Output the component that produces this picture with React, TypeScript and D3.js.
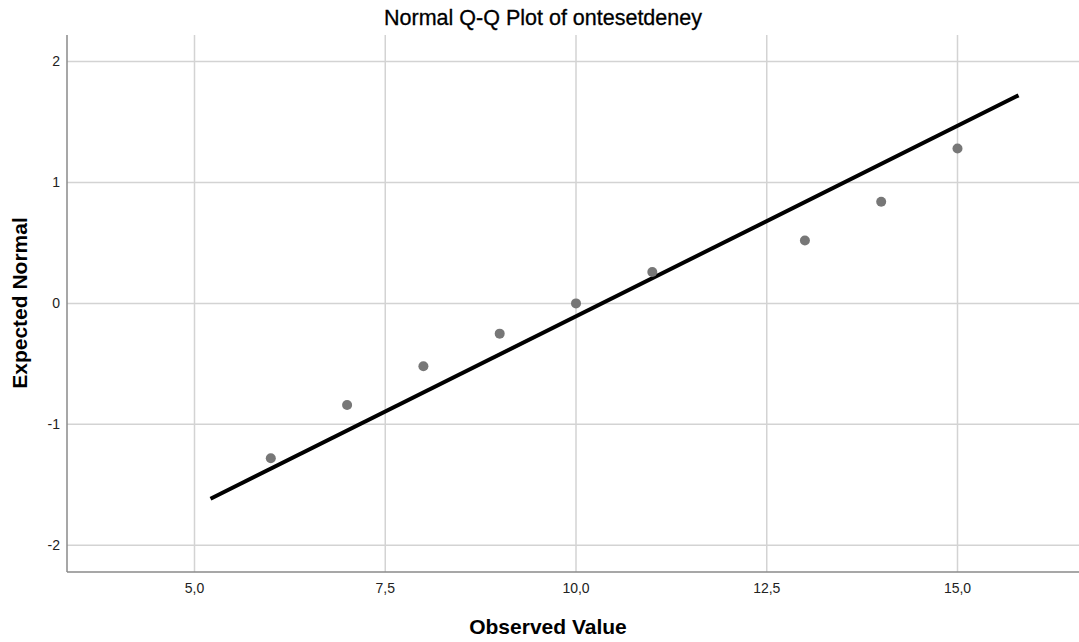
import React from "react";
import * as d3 from "d3";

const observed = [6, 7, 8, 9, 10, 11, 13, 14, 15];
const expected = [-1.28, -0.84, -0.52, -0.25, 0, 0.26, 0.52, 0.84, 1.28];
const lineX = [5.21, 15.8];
const lineY = [-1.615, 1.72];
const xTicks = [5, 7.5, 10, 12.5, 15];
const yTicks = [-2, -1, 0, 1, 2];

const W = 1079;
const H = 642;
const left = 67;
const right = 1079;
const top = 35;
const bottom = 572;

export default function App() {
  const x = d3.scaleLinear().domain([5, 15]).range([194.5, 957.5]);
  const y = d3.scaleLinear().domain([-2, 2]).range([545.3, 61.5]);
  const fmt = (v: number) => v.toFixed(1).replace(".", ",");
  const line = d3
    .line<number>()
    .x((d) => x(lineX[d]))
    .y((d) => y(lineY[d]));
  const font = "'Liberation Sans', Arial, sans-serif";
  return (
    <svg
      width={W}
      height={H}
      style={{ position: "absolute", left: 0, top: 0, background: "#fff" }}
      fontFamily={font}
    >
      <rect x={0} y={0} width={W} height={H} fill="#fff" />
      {xTicks.map((t) => (
        <line key={"gx" + t} x1={x(t)} x2={x(t)} y1={top} y2={bottom} stroke="#d3d3d3" strokeWidth={1.5} />
      ))}
      {yTicks.map((t) => (
        <line key={"gy" + t} x1={left} x2={right} y1={y(t)} y2={y(t)} stroke="#d3d3d3" strokeWidth={1.5} />
      ))}
      <line x1={left} x2={left} y1={top} y2={bottom} stroke="#8a8a8a" strokeWidth={1.5} />
      <line x1={left} x2={right} y1={bottom} y2={bottom} stroke="#8a8a8a" strokeWidth={1.5} />
      {yTicks.map((t) => (
        <text key={"ty" + t} x={60} y={y(t)} dy="0.35em" textAnchor="end" fontSize={14} fill="#222">
          {t}
        </text>
      ))}
      {xTicks.map((t) => (
        <text key={"tx" + t} x={x(t)} y={593} textAnchor="middle" fontSize={14} fill="#222">
          {fmt(t)}
        </text>
      ))}
      <path d={line([0, 1]) || ""} stroke="#000" strokeWidth={4} fill="none" />
      {observed.map((v, i) => (
        <circle key={"p" + i} cx={x(v)} cy={y(expected[i])} r={5} fill="#777" />
      ))}
      <text x={543} y={25} textAnchor="middle" fontSize={21.5} fill="#000" stroke="#000" strokeWidth={0.3}>
        Normal Q-Q Plot of ontesetdeney
      </text>
      <text x={548} y={634} textAnchor="middle" fontSize={21} fontWeight="bold" fill="#000">
        Observed Value
      </text>
      <text
        transform="translate(27,303) rotate(-90)"
        textAnchor="middle"
        fontSize={21}
        fontWeight="bold"
        fill="#000"
      >
        Expected Normal
      </text>
    </svg>
  );
}
